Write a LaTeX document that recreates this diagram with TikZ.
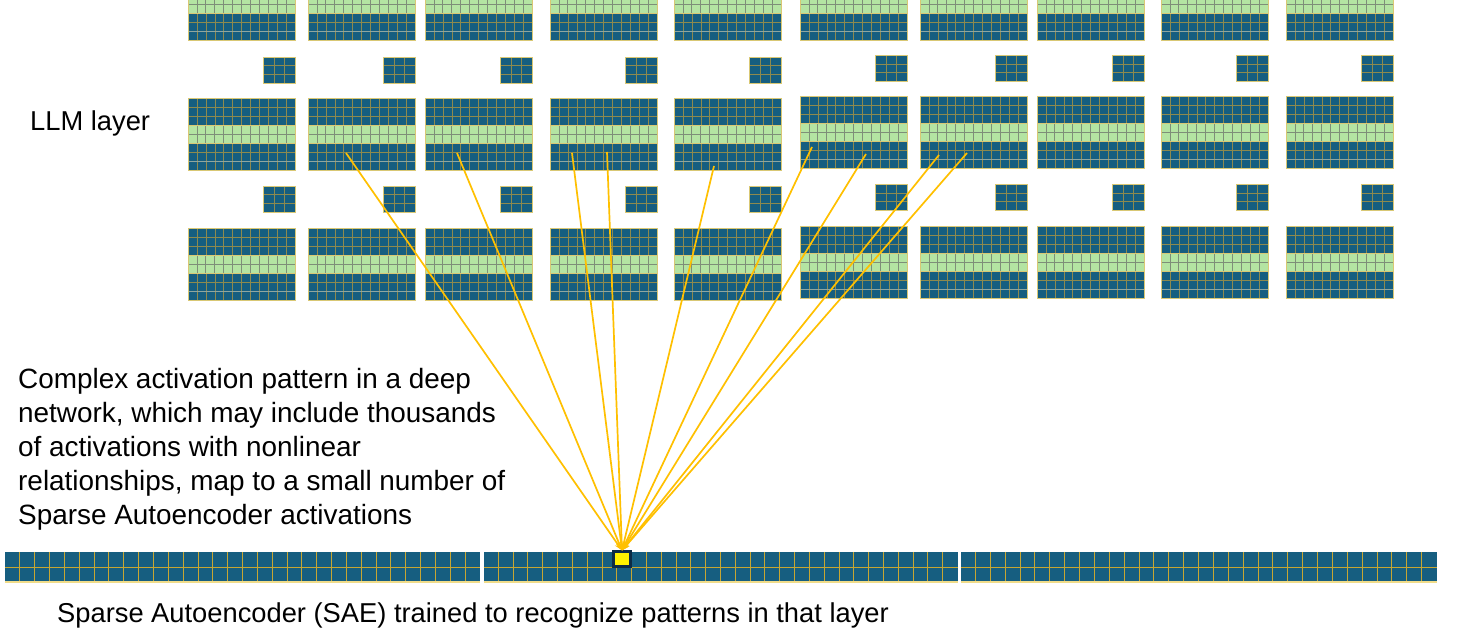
\documentclass[tikz,border=0pt]{standalone}
\usepackage{fontspec}
\setmainfont{Liberation Sans}
\usetikzlibrary{arrows.meta}
\definecolor{blk}{HTML}{165E80}
\definecolor{grn}{HTML}{B4E4A2}
\definecolor{bgridc}{HTML}{8E8A4E}
\definecolor{ggridc}{HTML}{7E8E78}
\definecolor{boutc}{HTML}{D9C874}
\definecolor{lightc}{HTML}{8FA6A0}
\definecolor{saegrid}{HTML}{C6A632}
\definecolor{saeout}{HTML}{F0DC8A}
\definecolor{connc}{HTML}{FFC000}
\definecolor{celledge}{HTML}{0D2B45}
\tikzset{
  bgrid/.style={draw=bgridc, line width=0.7pt},
  ggrid/.style={draw=ggridc, line width=0.9pt},
  bout/.style={draw=boutc, line width=0.9pt},
  lightline/.style={draw=lightc, line width=0.9pt},
  saeg/.style={draw=saegrid, line width=0.9pt},
  conn/.style={draw=connc, line width=1.7pt, -{Stealth[length=8pt,width=6pt]}},
  txt/.style={font=\fontsize{27.3}{34}\selectfont, text=black, inner sep=0pt},
  desctxt/.style={font=\fontsize{27.9}{34}\selectfont, text=black, inner sep=0pt},
}
\newcommand{\bigblk}[2]{%
\begin{scope}[shift={(#1,#2)}]
\fill[blk] (0,0) rectangle (107.5,72);
\fill[grn] (0,27) rectangle (107.5,45);
\foreach \i in {1,...,11}{
  \pgfmathsetmacro{\xx}{\i*107.5/12}
  \draw[bgrid] (\xx,0) -- (\xx,27);
  \draw[ggrid] (\xx,27) -- (\xx,45);
  \draw[bgrid] (\xx,45) -- (\xx,72);
}
\foreach \yy in {9,18,54}{\draw[bgrid] (0,\yy) -- (107.5,\yy);}
\draw[ggrid] (0,36) -- (107.5,36);
\draw[lightline] (0,63) -- (107.5,63);
\draw[bout] (0,27) -- (107.5,27);
\draw[bout] (0,45) -- (107.5,45);
\draw[bout] (0,0) rectangle (107.5,72);
\end{scope}}
\newcommand{\smallblk}[2]{%
\begin{scope}[shift={(#1,#2)}]
\fill[blk] (0,0) rectangle (32,26);
\foreach \xx in {10.67,21.33}{\draw[bgrid] (\xx,0) -- (\xx,26);}
\foreach \yy in {8.67,17.33}{\draw[bgrid] (0,\yy) -- (32,\yy);}
\draw[bout] (0,0) rectangle (32,26);
\end{scope}}
\newcommand{\saestrip}[3]{%
\begin{scope}[shift={(#1,552)}]
\fill[blk] (0,0) rectangle (#2,30);
\foreach \i in {1,...,#3}{
  \pgfmathsetmacro{\xx}{\i*#2/32}
  \draw[saeg] (\xx,0) -- (\xx,30);
}
\draw[saeg] (0,15) -- (#2,15);
\draw[draw=saeout, line width=1.2pt] (0,30) -- (#2,30);
\end{scope}}
\begin{document}
\begin{tikzpicture}[x=1pt,y=-1pt]
\clip (0,0) rectangle (1461,639);
\fill[white] (0,0) rectangle (1461,639);
% LLM layer blocks
\foreach \bx/\dy in {188/0,308/0,425/0,550/0,674/0,800/-1.5,920/-1.5,1037/-1.5,1161/-1.5,1286/-1.5}{
  \bigblk{\bx}{-32}
  \bigblk{\bx}{98+\dy}
  \bigblk{\bx}{228+\dy}
  \smallblk{\bx+75.5}{57+\dy}
  \smallblk{\bx+75.5}{186+\dy}
}
% texts
\node[txt, anchor=base west] (llm) at (30,131) {LLM layer};
\node[desctxt, anchor=base west, align=left] (desc) at (18,524) {Complex activation pattern in a deep\\network, which may include thousands\\of activations with nonlinear\\relationships, map to a small number of\\Sparse Autoencoder activations};
\node[txt, anchor=base west] (cap) at (57,622) {Sparse Autoencoder (SAE) trained to recognize patterns in that layer};
% SAE strips
\saestrip{5}{475}{31}
\saestrip{483.5}{474}{31}
\saestrip{960.5}{476}{31}
% highlighted SAE unit
\node[draw=celledge, line width=2.2pt, fill=yellow, minimum width=17pt, minimum height=15pt, inner sep=0pt] (sae) at (622,559) {};
% activation sources
\coordinate (s1) at (346,153);
\coordinate (s2) at (457,153);
\coordinate (s3) at (572,153);
\coordinate (s4) at (607,152);
\coordinate (s5) at (714,166);
\coordinate (s6) at (812,147);
\coordinate (s7) at (866,154);
\coordinate (s8) at (939,155);
\coordinate (s9) at (967,153);
\foreach \s in {s1,s2,s3,s4,s5,s6,s7,s8,s9}{
  \draw[conn] (\s) -- (sae.north);
}
\end{tikzpicture}
\end{document}
